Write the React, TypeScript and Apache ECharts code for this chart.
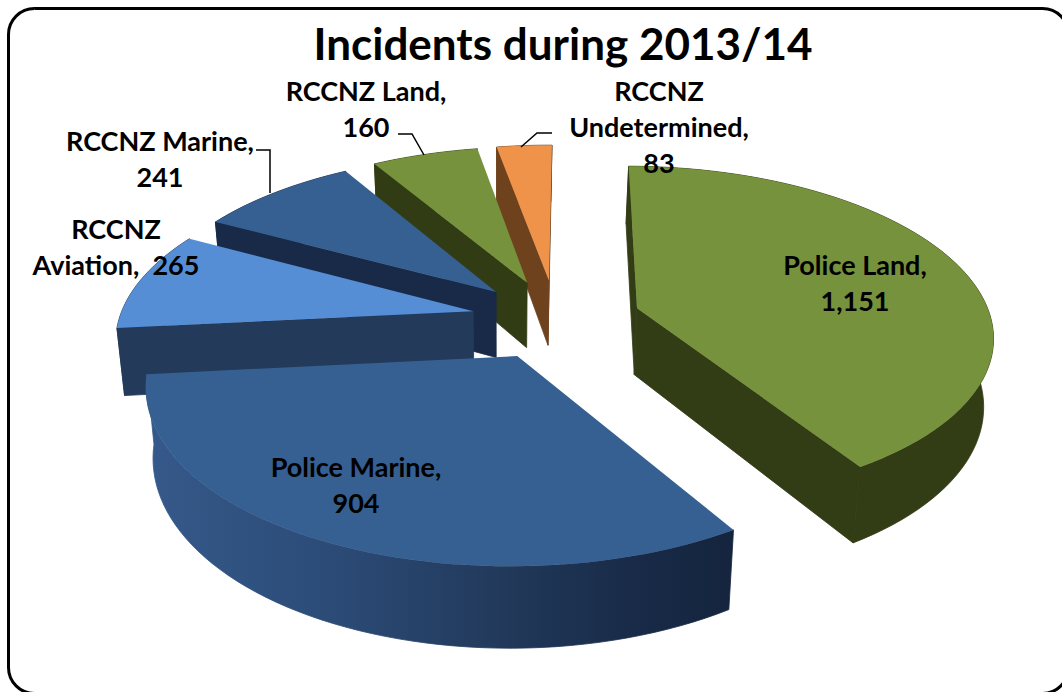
import React, { useEffect, useRef } from "react";
import * as echarts from "echarts";

const categories = ["Police Land", "Police Marine", "RCCNZ Aviation", "RCCNZ Marine", "RCCNZ Land", "RCCNZ Undetermined"];
const values = [1151, 904, 265, 241, 160, 83];
const topColors = ["#76923c", "#366092", "#558ed5", "#366092", "#76923c", "#f0934a"];
const wallColors = ["#323c15", "#182a47", "#233a5b", "#182a47", "#313c14", "#6f421e"];
const paintOrder = [5, 4, 3, 2, 1, 0];
const titleText = "Incidents during 2013/14";

const fmt = (v: number) => v.toLocaleString("en-US");

export default function App() {
  const ref = useRef<HTMLDivElement>(null);
  useEffect(() => {
    const chart = echarts.init(ref.current!, undefined, { renderer: "svg" });
    const total = values.reduce((a, b) => a + b, 0);
    const startAngle = 0.4;
    const cx = 556, cy = 319, R = 354, squash = 0.47, persp = 0.15, explode = 0.24, depth = 67, vx = 500, shrink = 0.98;
    const rad = (d: number) => (d * Math.PI) / 180;
    const spans: [number, number][] = [];
    let acc = startAngle;
    values.forEach((v) => {
      const s = (v / total) * 360;
      spans.push([acc, acc + s]);
      acc += s;
    });
    const project = (X: number, Y: number, bottom: boolean): number[] => {
      const w = 1 / (1 - persp * Y);
      const sx = cx + R * X * w;
      const sy = cy + R * squash * Y * w;
      return bottom ? [vx + (sx - vx) * shrink, sy + depth * w] : [sx, sy];
    };
    const area = (p: number[][]) => {
      let a = 0;
      p.forEach((q, i) => {
        const n = p[(i + 1) % p.length];
        a += q[0] * n[1] - n[0] * q[1];
      });
      return a;
    };
    const renderItem = (_params: any, api: any) => {
      const i = api.value(0);
      const [a0, a1] = spans[i];
      const mid = rad((a0 + a1) / 2);
      const ox = Math.sin(mid) * explode;
      const oy = -Math.cos(mid) * explode;
      const arcPts: number[][] = [];
      const steps = Math.max(8, Math.ceil((a1 - a0) / 2));
      for (let k = 0; k <= steps; k++) {
        const t = rad(a0 + ((a1 - a0) * k) / steps);
        arcPts.push([ox + Math.sin(t), oy - Math.cos(t)]);
      }
      const topArc = arcPts.map((p) => project(p[0], p[1], false));
      const botArc = arcPts.map((p) => project(p[0], p[1], true));
      const apexT = project(ox, oy, false);
      const apexB = project(ox, oy, true);
      const children: any[] = [];
      const add = (points: number[][], fill: any, seal: boolean) =>
        children.push({
          type: "polygon",
          shape: { points },
          style: { fill, stroke: seal ? fill : "none", lineWidth: seal ? 0.8 : 0 },
          silent: true,
        });
      const strip = [...topArc, ...botArc.slice().reverse()];
      const fill =
        i === 1
          ? new echarts.graphic.LinearGradient(
              150, 0, 725, 0,
              [
                { offset: 0, color: "#35598a" },
                { offset: 0.3, color: "#2c4c78" },
                { offset: 0.6, color: "#223a5c" },
                { offset: 0.85, color: "#182a47" },
                { offset: 1, color: "#15253f" },
              ],
              true
            )
          : wallColors[i];
      add(strip, fill, true);
      const startWall = [apexT, topArc[0], botArc[0], apexB];
      const endWall = [apexT, topArc[steps], botArc[steps], apexB];
      if (area(startWall) < 0) add(startWall, wallColors[i], true);
      if (area(endWall) > 0) add(endWall, wallColors[i], true);
      add([apexT, ...topArc], topColors[i], false);
      return { type: "group", children };
    };

    const font = { fontFamily: "Lato", fontWeight: "bold", fill: "#000", align: "center", verticalAlign: "middle" };
    const lh = 36;
    const labelSize = 27;
    const label = (x: number, y: number, text: string) => ({
      type: "text",
      x,
      y,
      z: 20,
      silent: true,
      style: { ...font, text, fontSize: labelSize, lineHeight: lh },
    });
    const leader = (points: number[][]) => ({
      type: "polyline",
      z: 19,
      silent: true,
      shape: { points },
      style: { stroke: "#000", lineWidth: 1.5, fill: "none" },
    });

    chart.setOption({
      animation: false,
      backgroundColor: "#fff",
      series: [
        {
          type: "custom",
          coordinateSystem: "none",
          renderItem,
          name: categories.join(", "),
          data: paintOrder.map((i) => [i, values[i]]),
          silent: true,
        },
      ],
      graphic: [
        {
          type: "rect",
          z: 0,
          silent: true,
          shape: { x: 8.5, y: 8.5, width: 1060, height: 685, r: 26 },
          style: { fill: "none", stroke: "#000", lineWidth: 3 },
        },
        {
          type: "text",
          x: 563,
          y: 43,
          z: 20,
          silent: true,
          style: { ...font, text: titleText, fontSize: 44 },
        },
        label(855, 282, `${categories[0]},\n${fmt(values[0])}`),
        label(356, 484, `${categories[1]},\n${fmt(values[1])}`),
        label(116, 246, `RCCNZ\nAviation,  ${fmt(values[2])}`),
        label(160, 158, `${categories[3]},\n${fmt(values[3])}`),
        label(366, 108, `${categories[4]},\n${fmt(values[4])}`),
        label(659, 126, `RCCNZ\nUndetermined,\n${fmt(values[5])}`),
        leader([[256, 150], [270, 150], [270, 193]]),
        leader([[398, 134], [412, 134], [424, 155]]),
        leader([[552, 133], [537, 133], [521, 147]]),
      ],
    });
    return () => chart.dispose();
  }, []);
  return <div ref={ref} style={{ position: "absolute", left: 0, top: 0, width: 1062, height: 692 }} />;
}
